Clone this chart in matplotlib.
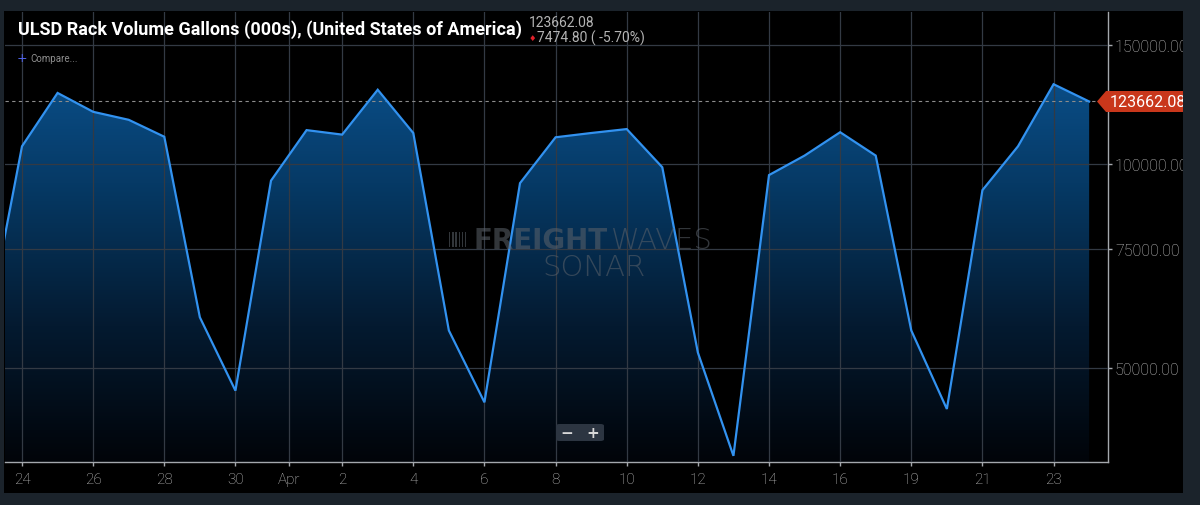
import numpy as np
import matplotlib.pyplot as plt
from matplotlib.colors import LinearSegmentedColormap
from matplotlib.patches import Rectangle, Polygon, FancyBboxPatch
from matplotlib.ticker import NullLocator, NullFormatter, FixedLocator, FixedFormatter

# ULSD rack volume, gallons (000s), daily - Apr 18 has no value
dates = ['2025-03-23', '2025-03-24', '2025-03-25', '2025-03-26', '2025-03-27', '2025-03-28',
         '2025-03-29', '2025-03-30', '2025-03-31', '2025-04-01', '2025-04-02', '2025-04-03',
         '2025-04-04', '2025-04-05', '2025-04-06', '2025-04-07', '2025-04-08', '2025-04-09',
         '2025-04-10', '2025-04-11', '2025-04-12', '2025-04-13', '2025-04-14', '2025-04-15',
         '2025-04-16', '2025-04-17', '2025-04-19', '2025-04-20', '2025-04-21', '2025-04-22',
         '2025-04-23', '2025-04-24']
values = [56500, 106200, 127300, 119400, 116200, 109700,
          59400, 46300, 94500, 112200, 110500, 128700,
          111100, 56800, 44500, 93700, 109500, 111100,
          112600, 98900, 52700, 37100, 96300, 102900,
          111400, 102900, 56800, 43500, 91500, 106200,
          131136.88, 123662.08]

tick_dates = ['2025-03-24', '2025-03-26', '2025-03-28', '2025-03-30', '2025-04-01', '2025-04-02',
              '2025-04-04', '2025-04-06', '2025-04-08', '2025-04-10', '2025-04-12', '2025-04-14',
              '2025-04-16', '2025-04-19', '2025-04-21', '2025-04-23']
tick_labels = ['24', '26', '28', '30', 'Apr', '2', '4', '6', '8', '10', '12', '14', '16', '19', '21', '23']
y_ticks = [50000, 75000, 100000, 150000]

title = 'ULSD Rack Volume Gallons (000s), (United States of America)'
last_value = values[-1]
change = values[-2] - values[-1]
change_pct = (values[-1] - values[-2]) / values[-2] * 100

W, H = 1200, 506
BORDER = '#1b232b'
FONT = ['Roboto', 'DejaVu Sans']


def fx(x):
    return x / W


def fy(y):
    return 1 - y / H


# ordinal x: one slot per available day, Mar 24 at 0
x = np.arange(len(dates)) - 1
pos = {d: i - 1 for i, d in enumerate(dates)}
tick_pos = [pos[d] - (0.5 if lab == 'Apr' else 0) for d, lab in zip(tick_dates, tick_labels)]

fig = plt.figure(figsize=(W / 100, H / 100), dpi=100, facecolor=BORDER)
# black panel
fig.patches.append(Rectangle((fx(4), fy(494)), fx(1183) - fx(4), fy(12) - fy(494),
                             transform=fig.transFigure, facecolor='black', edgecolor='none', zorder=-5))

ax = fig.add_axes([fx(5), fy(463), fx(1108) - fx(5), fy(12.7) - fy(463)])
ax.set_facecolor('none')
ax.set_yscale('log')
ax.set_xlim(-0.478, 30.53)
ax.set_ylim(36330, 167780)
ax.set_autoscale_on(False)

# gradient fill under the line
cmap = LinearSegmentedColormap.from_list('fill', [(0.0, '#010409'), (0.3, '#041a30'),
                                                  (0.62, '#063a66'), (1.0, '#0c5a9c')])
grad = np.linspace(0, 1, 256).reshape(-1, 1)
im = ax.imshow(grad, extent=[0, 1, 0, 1], transform=ax.transAxes, origin='lower',
               cmap=cmap, aspect='auto', zorder=1, interpolation='bilinear')
area = ax.fill_between(x, values, 1000, color='none', linewidth=0)
im.set_clip_path(area.get_paths()[0], transform=ax.transData)

ax.plot(x, values, color='#3292f0', lw=1.6, zorder=4, solid_joinstyle='miter')
ax.axhline(last_value, color='#8c8c8c', lw=0.8, ls=(0, (3, 3)), zorder=3)

# grid and axes
ax.set_axisbelow(False)
ax.yaxis.set_major_locator(FixedLocator(y_ticks))
ax.yaxis.set_minor_locator(NullLocator())
ax.yaxis.set_minor_formatter(NullFormatter())
ax.yaxis.set_major_formatter(FixedFormatter(['%.2f' % v for v in y_ticks]))
ax.xaxis.set_major_locator(FixedLocator(tick_pos))
ax.xaxis.set_major_formatter(FixedFormatter(tick_labels))
ax.grid(True, color='#333a44', lw=0.9)
ax.yaxis.tick_right()
for s in ['top', 'left']:
    ax.spines[s].set_visible(False)
for s in ['right', 'bottom']:
    ax.spines[s].set_color('#a4a8ad')
    ax.spines[s].set_linewidth(1.0)
ax.tick_params(axis='y', colors='#a4a8ad', labelcolor='#c4c4c4', length=3, width=1, pad=2,
               labelsize=11.5)
ax.tick_params(axis='x', colors='#a4a8ad', labelcolor='#c4c4c4', length=3, width=1, pad=4,
               labelsize=11)
for lab in ax.get_xticklabels() + ax.get_yticklabels():
    lab.set_family(FONT)
    lab.set_fontweight('light')

# header texts
fig.text(fx(18), fy(30), title, color='white', fontsize=13, fontweight='bold',
         family=FONT, va='center', ha='left')
fig.text(fx(529), fy(23), '%.2f' % last_value, color='#b4b4b4', fontsize=10,
         family=FONT, va='center', ha='left')
fig.text(fx(529), fy(38.5), '\u2666', color='#e0202a', fontsize=6,
         family=['DejaVu Sans'], va='center', ha='left')
fig.text(fx(537), fy(38), '%.2f ( %.2f%%)' % (change, change_pct), color='#b4b4b4', fontsize=10,
         family=FONT, va='center', ha='left')
fig.text(fx(17), fy(58), '+', color='#5266f0', fontsize=9, va='center', ha='left')
fig.text(fx(30), fy(58.5), 'Compare...', color='#8e8e8e', fontsize=7,
         family=FONT, va='center', ha='left')

# watermark
fig.text(fx(474), fy(241), 'FREIGHT', color='#5d636b', alpha=0.55, fontsize=20,
         fontweight='bold', va='center', ha='left', zorder=2)
fig.text(fx(611), fy(241), 'WAVES', color='#5d636b', alpha=0.55, fontsize=21,
         fontweight='light', va='center', ha='left', zorder=2)
fig.text(fx(594), fy(268), 'SONAR', color='#5d636b', alpha=0.55, fontsize=21,
         fontweight='light', va='center', ha='center', zorder=2)
for i in range(6):
    fig.patches.append(Rectangle((fx(449 + i * 3.2), fy(248)), fx(1.4), fy(233) - fy(248),
                                 transform=fig.transFigure, facecolor='#5d636b', alpha=0.55,
                                 edgecolor='none', zorder=2))

# zoom buttons
fig.patches.append(FancyBboxPatch((fx(556), fy(442)), fx(48), fy(425) - fy(442),
                                  boxstyle='round,pad=0,rounding_size=0.003',
                                  transform=fig.transFigure, facecolor='#2c3541',
                                  edgecolor='none', zorder=5))
fig.text(fx(567), fy(433.5), '\u2212', color='#d8d8d8', fontsize=11, fontweight='bold',
         ha='center', va='center', zorder=6)
fig.text(fx(593), fy(433.5), '+', color='#d8d8d8', fontsize=11, fontweight='bold',
         ha='center', va='center', zorder=6)

# last value label
fig.patches.append(Polygon([(fx(1097), fy(102.5)), (fx(1106), fy(92)), (fx(1190), fy(92)),
                            (fx(1190), fy(113)), (fx(1106), fy(113))], closed=True,
                           transform=fig.transFigure, facecolor='#c9371b', edgecolor='none',
                           zorder=5))
fig.text(fx(1110), fy(102.5), '%.2f' % last_value, color='white', fontsize=11.5,
         family=FONT, va='center', ha='left', zorder=6)

# right border drawn over the clipped labels
fig.patches.append(Rectangle((fx(1183), 0), fx(W) - fx(1183), 1, transform=fig.transFigure,
                             facecolor=BORDER, edgecolor='none', zorder=20))

fig.savefig('out.png', dpi=100, facecolor=fig.get_facecolor())
